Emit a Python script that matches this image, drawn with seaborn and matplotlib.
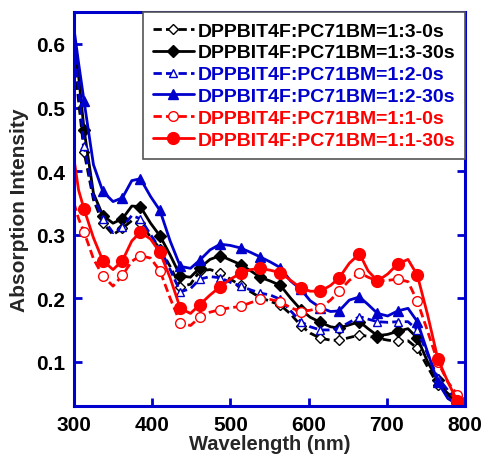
import numpy as np
import pandas as pd
import matplotlib
matplotlib.use('Agg')
import matplotlib.pyplot as plt
from matplotlib.lines import Line2D
import seaborn as sns

# 数据
wavelength = [300, 306, 313, 325, 337, 350, 362, 374, 385, 398, 410, 423, 436, 449,
              461, 474, 487, 500, 513, 526, 538, 551, 564, 577, 590, 602, 615, 628,
              639, 652, 665, 676, 688, 701, 714, 727, 739, 752, 765, 778, 790, 800]

r13_0s = [0.58, 0.51, 0.43, 0.355, 0.318, 0.300, 0.310, 0.322, 0.318, 0.296, 0.278, 0.250,
          0.218, 0.222, 0.243, 0.245, 0.240, 0.230, 0.220, 0.210, 0.201, 0.195, 0.189, 0.175,
          0.157, 0.145, 0.137, 0.134, 0.134, 0.138, 0.142, 0.140, 0.137, 0.134, 0.132, 0.133,
          0.121, 0.092, 0.064, 0.050, 0.040, 0.033]
r13_30s = [0.60, 0.55, 0.465, 0.365, 0.330, 0.318, 0.325, 0.345, 0.344, 0.318, 0.298, 0.268,
           0.235, 0.233, 0.248, 0.261, 0.267, 0.260, 0.253, 0.243, 0.233, 0.227, 0.220, 0.200,
           0.182, 0.170, 0.162, 0.155, 0.153, 0.158, 0.163, 0.152, 0.141, 0.143, 0.148, 0.152,
           0.137, 0.100, 0.071, 0.048, 0.035, 0.030]
r12_0s = [0.60, 0.53, 0.44, 0.360, 0.325, 0.303, 0.312, 0.330, 0.325, 0.300, 0.278, 0.245,
          0.210, 0.215, 0.230, 0.234, 0.232, 0.225, 0.219, 0.213, 0.208, 0.205, 0.198, 0.180,
          0.163, 0.155, 0.150, 0.150, 0.153, 0.162, 0.171, 0.167, 0.163, 0.162, 0.163, 0.163,
          0.150, 0.112, 0.075, 0.055, 0.040, 0.032]
r12_30s = [0.625, 0.57, 0.51, 0.41, 0.368, 0.352, 0.358, 0.385, 0.388, 0.360, 0.338, 0.290,
           0.250, 0.247, 0.260, 0.276, 0.285, 0.283, 0.279, 0.272, 0.265, 0.257, 0.248, 0.227,
           0.214, 0.196, 0.185, 0.179, 0.180, 0.197, 0.202, 0.190, 0.176, 0.172, 0.180, 0.184,
           0.163, 0.115, 0.068, 0.042, 0.033, 0.030]
r11_0s = [0.35, 0.325, 0.304, 0.262, 0.235, 0.219, 0.236, 0.258, 0.267, 0.263, 0.243, 0.200,
          0.161, 0.157, 0.170, 0.178, 0.182, 0.185, 0.187, 0.193, 0.198, 0.198, 0.194, 0.185,
          0.179, 0.181, 0.185, 0.197, 0.211, 0.228, 0.240, 0.233, 0.227, 0.228, 0.230, 0.226,
          0.195, 0.148, 0.100, 0.068, 0.048, 0.040]
r11_30s = [0.42, 0.37, 0.34, 0.295, 0.259, 0.245, 0.259, 0.290, 0.304, 0.293, 0.272, 0.232,
           0.184, 0.176, 0.190, 0.205, 0.218, 0.230, 0.239, 0.245, 0.247, 0.244, 0.240, 0.228,
           0.216, 0.211, 0.211, 0.220, 0.232, 0.255, 0.270, 0.243, 0.227, 0.238, 0.254, 0.261,
           0.236, 0.174, 0.105, 0.068, 0.038, 0.030]

labels = ['DPPBIT4F:PC71BM=1:3-0s', 'DPPBIT4F:PC71BM=1:3-30s',
          'DPPBIT4F:PC71BM=1:2-0s', 'DPPBIT4F:PC71BM=1:2-30s',
          'DPPBIT4F:PC71BM=1:1-0s', 'DPPBIT4F:PC71BM=1:1-30s']
series = [r13_0s, r13_30s, r12_0s, r12_30s, r11_0s, r11_30s]

BLUE = '#0000CC'
RED = '#FF0000'
colors = ['black', 'black', BLUE, BLUE, RED, RED]
markers = ['D', 'D', '^', '^', 'o', 'o']
msizes = [5, 6, 6, 6.5, 7, 8.5]
dash = (0, (3, 1.5))
styles = [dash, '-', dash, '-', dash, '-']
filled = [False, True, False, True, False, True]

sns.set_style('ticks')
plt.rcParams['font.family'] = ['Liberation Sans', 'DejaVu Sans']
plt.rcParams['font.weight'] = 'bold'

fig = plt.figure(figsize=(4.83, 4.56), dpi=100)
ax = fig.add_axes([0.153, 0.107, 0.810, 0.864])

handles = []
for y, lab, c, m, ms, ls, f in zip(series, labels, colors, markers, msizes, styles, filled):
    mfc = c if f else 'white'
    sns.lineplot(x=wavelength, y=y, ax=ax, color=c, linestyle=ls, linewidth=2,
                 marker=m, markersize=ms, markerfacecolor=mfc, markeredgecolor=c,
                 markeredgewidth=1, markevery=slice(2, None, 2), legend=False)
    handles.append(Line2D([], [], color=c, linestyle=ls, linewidth=2, marker=m,
                          markersize=ms, markerfacecolor=mfc, markeredgecolor=c,
                          markeredgewidth=1))

ax.set_xlim(300, 800)
ax.set_ylim(0.03, 0.65)
ax.set_xticks([300, 400, 500, 600, 700, 800])
ax.set_yticks([0.1, 0.2, 0.3, 0.4, 0.5, 0.6])
ax.set_xlabel('Wavelength (nm)', fontsize=14.5, fontweight='bold', labelpad=0)
ax.set_ylabel('Absorption Intensity', fontsize=15, fontweight='bold', labelpad=5)

for s in ax.spines.values():
    s.set_color(BLUE)
    s.set_linewidth(2.2)
    s.set_visible(True)
ax.tick_params(direction='in', length=6, width=2, color=BLUE, labelsize=15,
               labelcolor='black', right=True, top=False, pad=6)
for t in ax.get_xticklabels() + ax.get_yticklabels():
    t.set_fontweight('bold')

leg = ax.legend(handles, labels, loc='upper right', borderaxespad=0, fancybox=False,
                edgecolor='#555555', framealpha=1, handlelength=2.1, handletextpad=0.2,
                labelspacing=0.22, borderpad=0.5, prop={'weight': 'bold', 'size': 14})
leg.get_frame().set_linewidth(1.2)
for txt, c in zip(leg.get_texts(), colors):
    txt.set_color(c)

fig.savefig('out.png', dpi=100)
